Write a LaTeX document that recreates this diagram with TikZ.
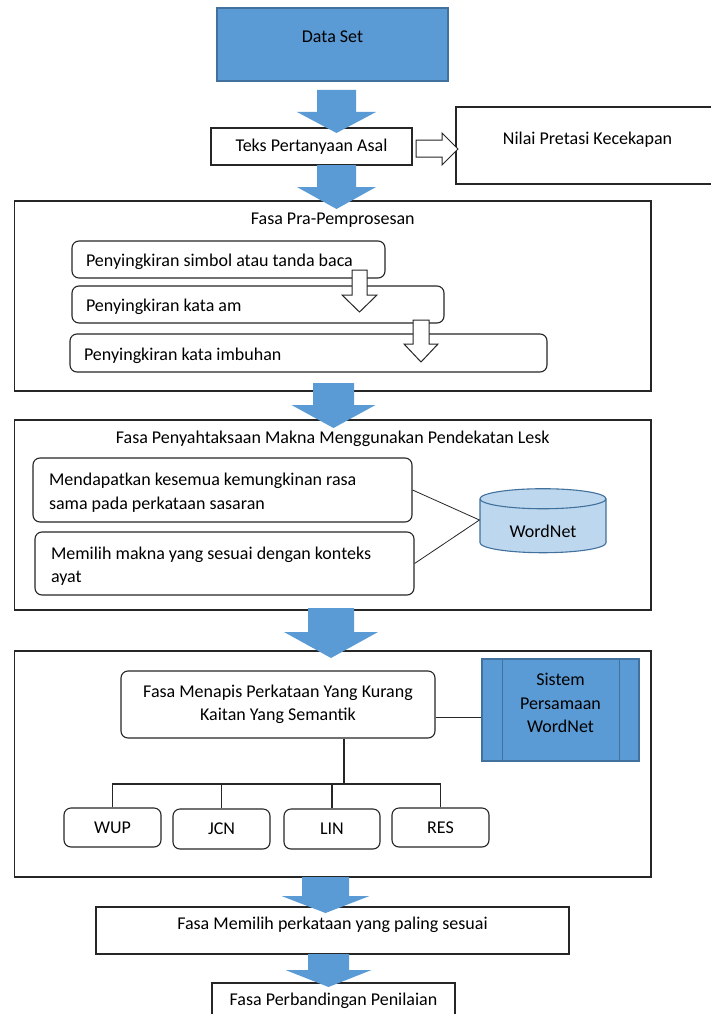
\documentclass[tikz,border=0pt]{standalone}
\usepackage{fontspec}
\setmainfont{Carlito}
\usetikzlibrary{shapes.geometric}

\definecolor{blockblue}{HTML}{5B9BD5}
\definecolor{edgeblue}{HTML}{41719C}
\definecolor{dbfill}{HTML}{BDD7EE}

\tikzset{
  every node/.style={font=\fontsize{18}{23.5}\selectfont},
  box/.style={draw=black!85, line width=1.1pt, inner sep=0pt},
  rbox/.style={box, rounded corners=7pt},
  listbox/.style={rbox, align=flush left, text height=18pt},
  frame/.style={draw=black!85, line width=1.1pt},
  link/.style={draw=black!85, line width=1.1pt},
  blockarrow/.style={fill=blockblue},
  hollowarrow/.style={draw=black!85, line width=1pt, fill=white},
}

% x, top, head top, tip, shaft half width, head half width
\newcommand{\blockdown}[7][blockarrow]{%
  \path[#1] (#2-#6,#3) -- (#2+#6,#3) -- (#2+#6,#4) -- (#2+#7,#4)
    -- (#2,#5) -- (#2-#7,#4) -- (#2-#6,#4) -- cycle;}

\begin{document}
\begin{tikzpicture}[x=1pt, y=-1pt]
\useasboundingbox (0,0) rectangle (710,1014);
\fill[white] (0,0) rectangle (710,1014);

% input
\node[box, fill=blockblue, draw=edgeblue, minimum width=231pt, minimum height=73pt, text depth=16pt] (ds) at (332.5,44.5) {Data Set};
\node[box, minimum width=201pt, minimum height=37pt] (teks) at (311.5,146.5) {Teks Pertanyaan Asal};
\node[box, minimum width=263pt, minimum height=77pt, text depth=14pt] (nilai) at (587.5,145.5) {Nilai Pretasi Kecekapan};

% pra-pemprosesan
\node[frame, minimum width=636.5pt, minimum height=190pt,
  label={[anchor=base, yshift=-24pt]north:Fasa Pra-Pemprosesan}] (pra) at (332.75,296) {};
\node[listbox, minimum width=313pt, minimum height=37pt, text width=285pt] (p1) at (228.5,259.5) {Penyingkiran simbol atau tanda baca};
\node[listbox, minimum width=372pt, minimum height=37pt, text width=344pt] (p2) at (258,304.5) {Penyingkiran kata am};
\node[listbox, minimum width=477pt, minimum height=38pt, text width=449pt] (p3) at (308.5,353) {Penyingkiran kata imbuhan};

% lesk
\node[frame, minimum width=636.5pt, minimum height=190pt,
  label={[anchor=base, yshift=-24pt]north:Fasa Penyahtaksaan Makna Menggunakan Pendekatan Lesk}] (lesk) at (332.75,515) {};
\node[listbox, minimum width=379pt, minimum height=64pt, text width=347pt] (la) at (222.5,490) {Mendapatkan kesemua kemungkinan rasa\\sama pada perkataan sasaran};
\node[listbox, minimum width=379pt, minimum height=63pt, text width=347pt] (lb) at (224.5,563.5) {Memilih makna yang sesuai dengan konteks\\ayat};
\node[cylinder, shape border rotate=90, aspect=0.3, draw=edgeblue, line width=1.1pt, fill=dbfill,
  minimum width=126pt, minimum height=64pt, inner sep=0pt, text height=24pt] (wn) at (543,526) {WordNet};
\draw[link, line width=0.8pt] (la.east) -- ([yshift=6pt]wn.west) -- (lb.east);

% semantik
\node[frame, minimum width=636.5pt, minimum height=226pt] (sem) at (332.75,764) {};
\node[rbox, minimum width=314pt, minimum height=67pt, align=flush center] (mp) at (278,704.5) {Fasa Menapis Perkataan Yang Kurang\\Kaitan Yang Semantik};
\node[box, fill=blockblue, draw=edgeblue, minimum width=157pt, minimum height=102pt, align=flush center, text depth=14pt] (sp) at (560.5,710) {Sistem\\Persamaan\\WordNet};
\draw[edgeblue, line width=1.2pt] ([xshift=21pt]sp.north west) -- ([xshift=21pt]sp.south west);
\draw[edgeblue, line width=1.2pt] ([xshift=-20pt]sp.north east) -- ([xshift=-20pt]sp.south east);
\draw[link] ([yshift=-13pt]mp.east) -- ([yshift=-13pt]mp.east -| sp.west);

\node[rbox, minimum width=97pt, minimum height=39pt] (wup) at (112.5,827.5) {WUP};
\node[rbox, minimum width=97pt, minimum height=40pt] (jcn) at (221.5,829) {JCN};
\node[rbox, minimum width=96pt, minimum height=40pt] (lin) at (332,829) {LIN};
\node[rbox, minimum width=97pt, minimum height=39pt] (res) at (440.5,827.5) {RES};
\coordinate (bus) at (344,784);
\draw[link] ([xshift=66pt]mp.south) -- (bus);
\foreach \n in {wup,jcn,lin,res}
  \draw[link] (\n.north) |- (bus);

% output
\node[box, minimum width=473pt, minimum height=47pt, text depth=14pt] (ml) at (332.5,930.5) {Fasa Memilih perkataan yang paling sesuai};
\node[box, minimum width=243pt, minimum height=47pt, text depth=14pt] (pb) at (333.5,1006.5) {Fasa Perbandingan Penilaian};

% arrows
\blockdown{336.5}{90}{112}{133}{19.5}{39.5}
\blockdown{336.5}{165}{187}{209}{19.5}{39.5}
\blockdown{333.5}{383}{405}{428}{20.5}{42}
\blockdown{331}{608}{632}{658}{23}{47}
\blockdown{325.5}{877}{896}{913}{23.5}{44}
\blockdown{328.5}{954}{970}{987}{20.5}{43}
\blockdown[hollowarrow]{359.5}{270}{295}{312}{7.5}{17.5}
\blockdown[hollowarrow]{421}{320}{344}{362}{8}{17}
\path[hollowarrow] (416,140) -- (442,140) -- (442,133) -- (458,149)
  -- (442,165) -- (442,157) -- (416,157) -- cycle;
\end{tikzpicture}
\end{document}
